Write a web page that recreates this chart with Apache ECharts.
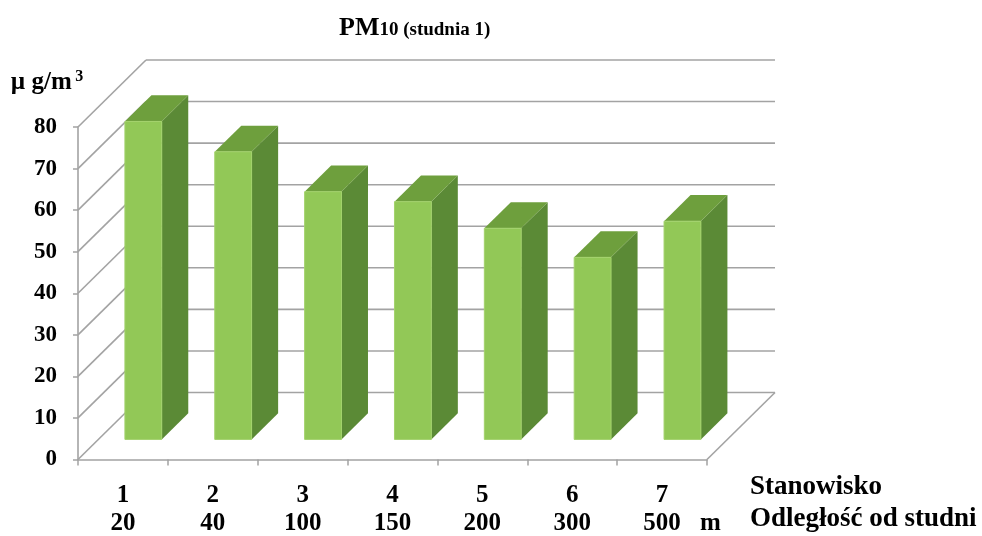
<!DOCTYPE html>
<html>
<head>
<meta charset="utf-8">
<script src="https://cdn.jsdelivr.net/npm/echarts@6/dist/echarts.min.js"></script>
<style>
  html, body { margin: 0; padding: 0; background: #ffffff; }
  #chart { width: 982px; height: 536px; }
</style>
</head>
<body>
<div id="chart"></div>
<script>
// Measurement stations and their distance from the well (m)
const stations = ['1', '2', '3', '4', '5', '6', '7'];
const distances = ['20', '40', '100', '150', '200', '300', '500'];
// PM10 concentration at each station, µg/m³
const pm10 = [76.5, 69.2, 59.6, 57.2, 50.8, 43.8, 52.5];
// Value-axis ticks (also used for the wall grid)
const yTicks = [0, 10, 20, 30, 40, 50, 60, 70, 80];

// Oblique 3D projection: pixel offset of the back wall from the front plane
const DX = 68, DY = -67;
const BAR_FRONT = 0.30, BAR_BACK = 0.69, BAR_RATIO = 0.41;
const C_FRONT = '#92C857', C_TOP = '#6E9F3D', C_SIDE = '#5B8A36', C_EDGE = '#A3D26C';
const WALL = { stroke: '#a3a3a3', lineWidth: 1.6 };
const FONT = "'Liberation Serif', 'Times New Roman', serif";

const chart = echarts.init(document.getElementById('chart'), null, { renderer: 'canvas' });

function renderWalls(params, api) {
  const cs = params.coordSys;
  const v = api.value(1);
  const y = api.coord([0, v])[1];
  const L = cs.x, R = cs.x + cs.width;
  const children = [
    { type: 'line', shape: { x1: L, y1: y, x2: L + DX, y2: y + DY }, style: WALL },
    { type: 'line', shape: { x1: L + DX, y1: y + DY, x2: R + DX, y2: y + DY }, style: WALL }
  ];
  if (v === 0) {
    children.push({ type: 'line', shape: { x1: R, y1: y, x2: R + DX, y2: y + DY }, style: WALL });
  }
  return { type: 'group', children };
}

function renderBar(params, api) {
  const i = api.value(0), v = api.value(1);
  const base = api.coord([i, 0]);
  const top = api.coord([i, v]);
  const half = api.size([1, 0])[0] * BAR_RATIO / 2;
  const fx = DX * BAR_FRONT, fy = DY * BAR_FRONT;
  const ox = DX * (BAR_BACK - BAR_FRONT), oy = DY * (BAR_BACK - BAR_FRONT);
  const xl = base[0] - half + fx, xr = base[0] + half + fx;
  const yt = top[1] + fy, yb = base[1] + fy;
  return {
    type: 'group',
    children: [
      { type: 'polygon', shape: { points: [[xr, yt], [xr + ox, yt + oy], [xr + ox, yb + oy], [xr, yb]] },
        style: { fill: C_SIDE } },
      { type: 'polygon', shape: { points: [[xl, yt], [xl + ox, yt + oy], [xr + ox, yt + oy], [xr, yt]] },
        style: { fill: C_TOP } },
      { type: 'rect', shape: { x: xl, y: yt, width: xr - xl, height: yb - yt },
        style: { fill: C_FRONT, stroke: C_EDGE, lineWidth: 1 } }
    ]
  };
}

const LBL = 25;
const labelRich = {
  s: { fontFamily: FONT, fontWeight: 'bold', fontSize: LBL, color: '#000', lineHeight: 28 },
  d: { fontFamily: FONT, fontWeight: 'bold', fontSize: LBL, color: '#000', lineHeight: 28 },
  sp: { width: 40, fontSize: LBL, lineHeight: 28 },
  u: { fontFamily: FONT, fontWeight: 'bold', fontSize: LBL, color: '#000', lineHeight: 28, width: 40, align: 'right' }
};

chart.setOption({
  animation: false,
  backgroundColor: '#ffffff',
  title: {
    text: '{a|PM}{b|10 (studnia 1)}',
    left: 334,
    top: 10,
    textStyle: {
      rich: {
        a: { fontFamily: FONT, fontWeight: 'bold', fontSize: 26, color: '#000' },
        b: { fontFamily: FONT, fontWeight: 'bold', fontSize: 19, color: '#000', padding: [5, 0, 0, 0] }
      }
    }
  },
  grid: { left: 78, right: 275, top: 127, bottom: 75 },
  xAxis: {
    type: 'category',
    data: stations,
    boundaryGap: true,
    axisLine: { show: true, lineStyle: { color: '#a3a3a3', width: 1.6 } },
    axisTick: { show: true, length: 6, lineStyle: { color: '#a3a3a3', width: 1.5 } },
    axisLabel: {
      margin: 22,
      interval: 0,
      formatter: function (val, idx) {
        if (idx === stations.length - 1) {
          return '{s|' + val + '}\n{sp| }{d|' + distances[idx] + '}{u|m}';
        }
        return '{s|' + val + '}\n{d|' + distances[idx] + '}';
      },
      rich: labelRich
    },
    name: 'Stanowisko\nOdległość od studni',
    nameLocation: 'end',
    nameGap: 43,
    nameTextStyle: {
      fontFamily: FONT, fontWeight: 'bold', fontSize: 27, color: '#000',
      align: 'left', verticalAlign: 'top', lineHeight: 32, padding: [12, 0, 0, 0]
    }
  },
  yAxis: {
    type: 'value',
    min: 0,
    max: 80,
    interval: 10,
    splitLine: { show: false },
    axisLine: { show: true, lineStyle: { color: '#a3a3a3', width: 1.6 } },
    axisTick: { show: true, length: 5, lineStyle: { color: '#a3a3a3', width: 1.5 } },
    axisLabel: { margin: 21, fontFamily: FONT, fontWeight: 'bold', fontSize: 23, color: '#000' },
    name: '{n|µ g/m} {sup|3}',
    nameLocation: 'end',
    nameGap: 30,
    nameTextStyle: {
      align: 'center',
      padding: [0, 62, 0, 0],
      rich: {
        n: { fontFamily: FONT, fontWeight: 'bold', fontSize: 25, color: '#000' },
        sup: { fontFamily: FONT, fontWeight: 'bold', fontSize: 16, color: '#000', padding: [0, 0, 12, 0] }
      }
    }
  },
  series: [
    {
      type: 'custom',
      name: 'walls',
      renderItem: renderWalls,
      data: yTicks.map(v => [0, v]),
      clip: false,
      silent: true,
      z: 1
    },
    {
      type: 'custom',
      name: 'PM10',
      renderItem: renderBar,
      data: pm10.map((v, i) => [i, v]),
      clip: false,
      z: 2
    }
  ]
});
</script>
</body>
</html>
